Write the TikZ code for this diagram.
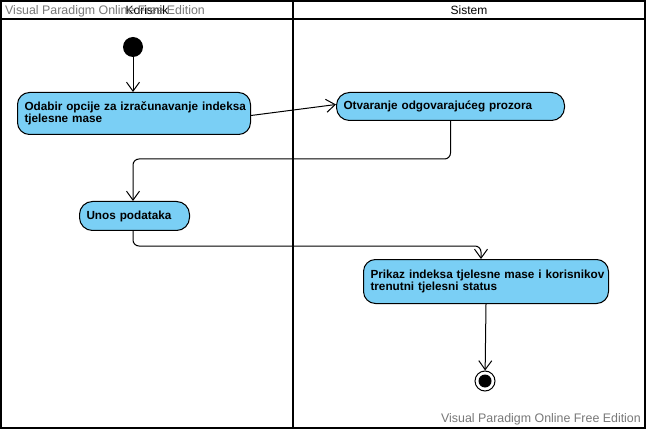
\documentclass[tikz,border=0pt]{standalone}
\usepackage{fontspec}
\setmainfont{Liberation Sans}
\usetikzlibrary{arrows.meta}
\definecolor{actblue}{RGB}{122,207,245}
\definecolor{wmgray}{RGB}{120,120,120}
\begin{document}
\begin{tikzpicture}[x=1pt,y=-1pt,
  act/.style={draw, line width=1pt, fill=actblue, rounded corners=12pt, font=\fontsize{11.75}{12.5}\selectfont\bfseries,
    align=left, inner xsep=7pt, inner ysep=0pt, anchor=north west},
  arr/.style={draw, line width=1pt, -{Straight Barb[length=9pt,width=13pt,line width=1pt]}},
  lane/.style={draw, line width=2pt},
  wm/.style={text=wmgray, font=\fontsize{12.4}{14}\selectfont, inner sep=0pt},
  hdr/.style={font=\fontsize{12}{14}\selectfont, inner sep=0pt}]
\useasboundingbox (0,0) rectangle (647,430);
\fill[white] (0,0) rectangle (647,430);
% frame
\draw[lane] (1,1) rectangle (645,428);
\draw[lane] (1,19) -- (645,19);
\draw[lane] (293,1) -- (293,428);
\node[hdr] (hk) at (147,10) {Korisnik};
\node[hdr] (hs) at (469,10) {Sistem};
\node[wm, anchor=west] (wm1) at (5,11) {Visual Paradigm Online Free Edition};
\node[wm, anchor=east] (wm2) at (641,419) {Visual Paradigm Online Free Edition};
% nodes
\node[fill=black, circle, minimum size=20pt, inner sep=0pt] (init) at (133,47) {};
\node[act, minimum width=233pt, minimum height=42pt, text width=219pt] (n1) at (17,92)
  {\mbox{Odabir opcije za izračunavanje indeksa}\\\mbox{tjelesne mase}};
\node[act, minimum width=228pt, minimum height=28pt, text width=214pt, rounded corners=13pt] (n2) at (336,92)
  {\mbox{Otvaranje odgovarajućeg prozora}};
\node[act, minimum width=110pt, minimum height=29pt, text width=96pt, rounded corners=13pt] (n3) at (79,201)
  {\mbox{Unos podataka}};
\node[act, minimum width=245pt, minimum height=44pt, text width=231pt] (n4) at (363,259)
  {\mbox{Prikaz indeksa tjelesne mase i korisnikov}\\\mbox{trenutni tjelesni status}};
\node[draw, line width=1pt, fill=white, circle, minimum size=20pt, inner sep=0pt] (fin) at (485,381) {};
\node[fill=black, circle, minimum size=13pt, inner sep=0pt] (finin) at (fin) {};
% edges
\draw[arr] (init) -- (n1.north -| init);
\draw[arr] ([yshift=-2pt]n1.east) -- ([yshift=2pt]n2.west);
\draw[arr, rounded corners=6pt] (n2.south) -- ++(0,38) -| (n3.north -| init);
\draw[arr, rounded corners=6pt] (n3.south -| init) -- ++(0,15) -| ([xshift=-5pt]n4.north);
\draw[arr] (n4.south) -- (fin);
\end{tikzpicture}
\end{document}
